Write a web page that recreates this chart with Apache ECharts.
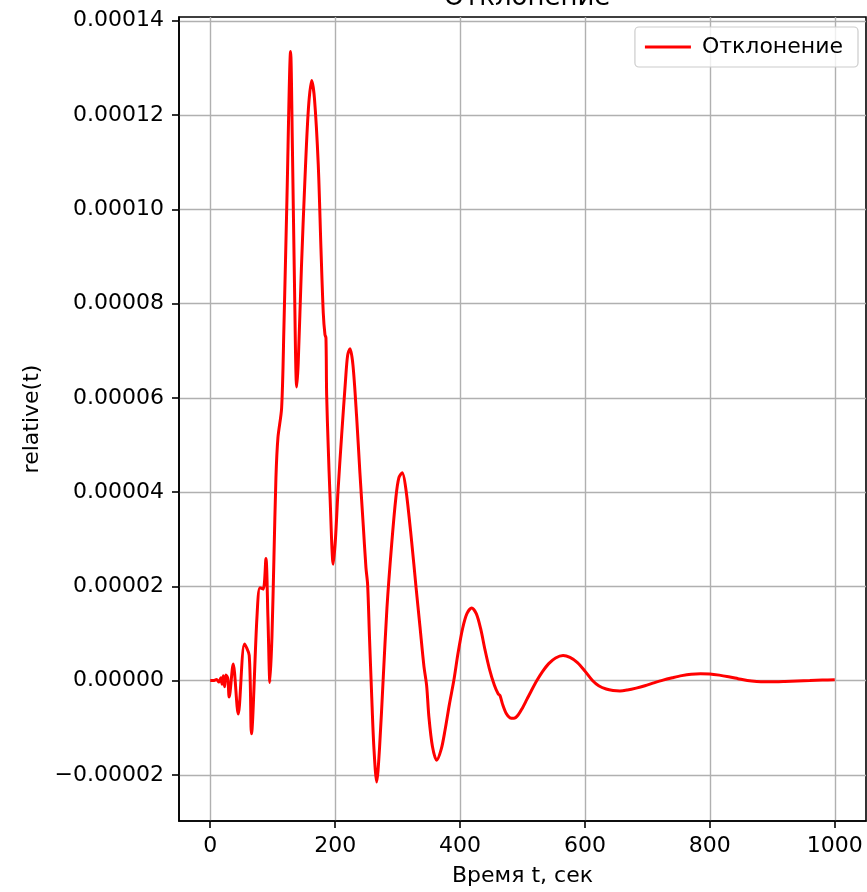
<!DOCTYPE html>
<html>
<head>
<meta charset="utf-8">
<script src="https://cdn.jsdelivr.net/npm/echarts@6/dist/echarts.min.js"></script>
<style>
  html, body { margin: 0; padding: 0; background: #fff; }
  #chart { width: 867px; height: 892px; }
</style>
</head>
<body>
<div id="chart"></div>
<script>
// Time samples, seconds
const time = [
  0, 5, 10, 14, 17, 19, 21, 23, 25, 28,
  30.4, 36.8, 44.8, 54.8, 62.4, 66, 74.8, 79.6, 84.9, 89.2,
  92.4, 95.6, 98.8, 102, 105.2, 108.4, 114.3, 118, 122.8, 128.7,
  131.6, 134.8, 138.4, 140.9, 146, 151.6, 157.2, 162.4, 166.9, 172.9,
  177.3, 181, 183.7, 185.3, 186.4, 189, 191.7, 197, 200.5, 204.5,
  210.4, 216.5, 220, 223.7, 228.5, 234.4, 239.7, 245, 249.3, 252,
  255, 258.4, 262, 266.5, 271, 277, 283, 290.5, 297.4, 302, 307.4,
  313.4, 322.5, 329.4, 335.8, 342.2, 346.5, 350.2, 355.8, 362.5,
  370, 376, 383, 390, 397, 404, 411, 418.6,
  426, 433, 440, 447, 455, 461, 464, 468, 474, 480,
  486.3, 493, 500, 507, 514, 523, 532, 542, 553, 565,
  576, 588, 600, 612, 622, 634, 645, 656, 668, 682,
  696, 710, 725, 740, 755, 770, 785, 800, 815, 830,
  845, 860, 875, 890, 905, 920, 940, 960, 980, 1000
];

// Relative deviation at each time sample
const relative = [
  0, 0, 0.2e-6, -0.3e-6, 0.6e-6, -0.8e-6, 1.0e-6, -1.3e-6, 1.2e-6, 0.5e-6,
  -3.5e-6, 3.5e-6, -7.1e-6, 7.75e-6, 5.35e-6, -1.13e-5, 1.34e-5, 1.97e-5, 1.94e-5, 2.59e-5,
  1.34e-5, -0.4e-6, 9.2e-6, 2.6e-5, 4.3e-5, 5.15e-5, 5.78e-5, 7.5e-5, 1.02e-4, 1.335e-4,
  1.13e-4, 8.5e-5, 6.23e-5, 6.74e-5, 8.75e-5, 1.062e-4, 1.213e-4, 1.273e-4, 1.235e-4, 1.097e-4,
  9.17e-5, 7.8e-5, 7.34e-5, 7.27e-5, 6.07e-5, 4.94e-5, 3.95e-5, 2.47e-5, 3.0e-5, 4.0e-5,
  5.2e-5, 6.35e-5, 6.9e-5, 7.04e-5, 6.7e-5, 5.6e-5, 4.4e-5, 3.3e-5, 2.4e-5, 2.04e-5,
  9.2e-6, -2.8e-6, -1.41e-5, -2.15e-5, -1.45e-5, 0.5e-6, 1.55e-5, 2.89e-5, 3.9e-5, 4.3e-5, 4.41e-5,
  4.05e-5, 2.95e-5, 2.0e-5, 1.15e-5, 3.0e-6, -1.06e-6, -7.8e-6, -1.4e-5, -1.69e-5,
  -1.45e-5, -1.05e-5, -5.0e-6, 0, 6.0e-6, 1.1e-5, 1.42e-5, 1.54e-5,
  1.42e-5, 1.1e-5, 6.5e-6, 2.5e-6, -1.0e-6, -2.8e-6, -3.2e-6, -5.0e-6, -7.0e-6, -7.9e-6,
  -8.0e-6, -7.3e-6, -5.8e-6, -4.0e-6, -2.2e-6, 0, 1.9e-6, 3.6e-6, 4.8e-6, 5.3e-6,
  4.9e-6, 3.8e-6, 2.0e-6, 0, -1.1e-6, -1.8e-6, -2.1e-6, -2.2e-6, -2.0e-6, -1.6e-6,
  -1.1e-6, -0.5e-6, 0.1e-6, 0.6e-6, 1.05e-6, 1.35e-6, 1.45e-6, 1.4e-6, 1.15e-6, 0.8e-6,
  0.4e-6, 0, -0.2e-6, -0.25e-6, -0.25e-6, -0.2e-6, -0.1e-6, 0, 0.1e-6, 0.15e-6
];

// Tick positions
const xTicks = [0, 200, 400, 600, 800, 1000];
const yTicks = [-0.00002, 0, 0.00002, 0.00004, 0.00006, 0.00008, 0.0001, 0.00012, 0.00014];

const FONT = 'DejaVu Sans';
const chart = echarts.init(document.getElementById('chart'), null, { renderer: 'canvas' });

const fmtY = v => (v < 0 ? '\u2212' : '') + Math.abs(v).toFixed(5);

chart.setOption({
  animation: false,
  backgroundColor: '#ffffff',
  title: {
    text: 'Отклонение',
    left: 522,
    textAlign: 'center',
    top: -20,
    textStyle: { fontFamily: FONT, fontSize: 26, fontWeight: 'normal', color: '#000' }
  },
  legend: {
    right: 9,
    top: 27,
    data: [{ name: 'Отклонение', icon: 'rect' }],
    itemWidth: 46,
    itemHeight: 3,
    padding: [9, 15, 9, 10],
    borderColor: '#cccccc',
    borderWidth: 1.2,
    borderRadius: 4,
    backgroundColor: 'rgba(255,255,255,0.8)',
    textStyle: { fontFamily: FONT, fontSize: 22, color: '#000', padding: [0, 0, 0, 6] }
  },
  grid: {
    left: 179,
    top: 17,
    right: 1,
    bottom: 68,
    show: true,
    borderColor: '#000',
    borderWidth: 1.6,
    backgroundColor: 'transparent'
  },
  xAxis: {
    type: 'value',
    min: -50,
    max: 1050,
    name: 'Время t, сек',
    nameLocation: 'middle',
    nameGap: 44,
    nameTextStyle: { fontFamily: FONT, fontSize: 22, color: '#000' },
    axisLine: { show: true, onZero: false, lineStyle: { color: '#000', width: 1.6 } },
    axisTick: { show: true, length: 7, lineStyle: { color: '#000', width: 1.6 }, customValues: xTicks },
    axisLabel: {
      customValues: xTicks,
      margin: 14,
      formatter: v => String(v),
      fontFamily: FONT, fontSize: 22, color: '#000'
    },
    splitLine: { show: true, lineStyle: { color: '#b0b0b0', width: 1.4 } }
  },
  yAxis: {
    type: 'value',
    min: -0.0000298,
    max: 0.0001408,
    name: 'relative(t)',
    nameLocation: 'middle',
    nameGap: 134,
    nameRotate: 90,
    nameTextStyle: { fontFamily: FONT, fontSize: 22, color: '#000' },
    axisLine: { show: true, onZero: false, lineStyle: { color: '#000', width: 1.6 } },
    axisTick: { show: true, length: 7, lineStyle: { color: '#000', width: 1.6 }, customValues: yTicks },
    axisLabel: {
      customValues: yTicks,
      margin: 15,
      formatter: fmtY,
      fontFamily: FONT, fontSize: 22, color: '#000'
    },
    splitLine: { show: true, lineStyle: { color: '#b0b0b0', width: 1.4 } }
  },
  series: [{
    name: 'Отклонение',
    type: 'line',
    data: time.map((t, i) => [t, relative[i]]),
    smooth: 0.3,
    symbol: 'none',
    itemStyle: { color: '#ff0000' },
    lineStyle: { color: '#ff0000', width: 3 }
  }]
});
</script>
</body>
</html>
